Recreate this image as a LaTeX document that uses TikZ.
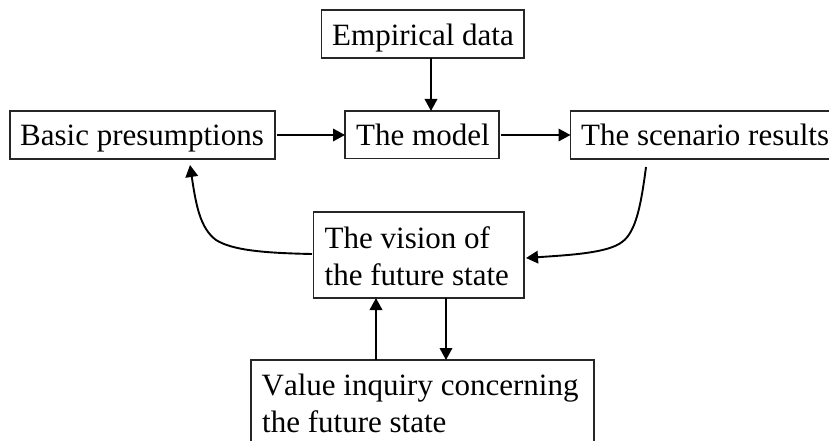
\documentclass[tikz,border=0pt]{standalone}
\usepackage{fontspec}
\setmainfont[Kerning=Off]{Liberation Serif}
\usetikzlibrary{arrows.meta,calc}
\tikzset{
  box/.style={draw=black!85,line width=1.2pt,inner sep=0pt,outer sep=0pt,anchor=north west},
  label/.style={font=\fontsize{31}{36}\selectfont,anchor=base west,inner sep=0pt},
  flow/.style={line width=1.9pt,black,-{Triangle[length=12pt,width=12.5pt]}}
}
\begin{document}
\begin{tikzpicture}[x=1pt,y=-1pt]
\useasboundingbox (0,0) rectangle (829,441);
\clip (0,0) rectangle (829,441);
\node[box,minimum width=202.5pt,minimum height=48pt] (emp) at (321.5,10) {};
\node[label] (empt) at (332,45.5) {Empirical data};
\node[box,minimum width=154pt,minimum height=47.5pt] (mod) at (345,111) {};
\node[label] (modt) at (356,146) {The model};
\node[box,minimum width=265pt,minimum height=48pt] (bas) at (10,111) {};
\node[label] (bast) at (20,146) {Basic presumptions};
\node[box,minimum width=280pt,minimum height=48pt] (sce) at (570.5,111) {};
\node[label] (scet) at (581,146) {The scenario results};
\node[box,minimum width=210.5pt,minimum height=86pt] (vis) at (313.5,212) {};
\node[label] (vist1) at (324.5,248) {The vision of};
\node[label] (vist2) at (324.5,285) {the future state};
\node[box,minimum width=343pt,minimum height=100pt] (val) at (251,360) {};
\node[label] (valt1) at (261.5,395) {Value inquiry concerning};
\node[label] (valt2) at (262,432) {the future state};
\draw[flow] (emp.south -| 431,0) -- (mod.north -| 431,0);
\draw[flow] (bas.east |- 0,135) ++(1.5,0) -- (mod.west |- 0,135);
\draw[flow] (mod.east |- 0,135) ++(2,0) -- (sce.west |- 0,135);
\draw[flow] (val.north -| 376,0) -- (vis.south -| 376,0);
\draw[flow] (vis.south -| 446,0) -- (val.north -| 446,0);
\coordinate (a1) at (312,254);
\coordinate (a2) at (190,165);
\coordinate (b1) at (646,167);
\coordinate (b2) at (526,258);
\draw[flow] (a1) .. controls (262,253) and (232,250) .. (216,240) .. controls (200,228) and (196,205) .. (a2);
\draw[flow] (b1) .. controls (641,205) and (636,232) .. (622,242) .. controls (608,253) and (570,255) .. (b2);
\end{tikzpicture}
\end{document}
